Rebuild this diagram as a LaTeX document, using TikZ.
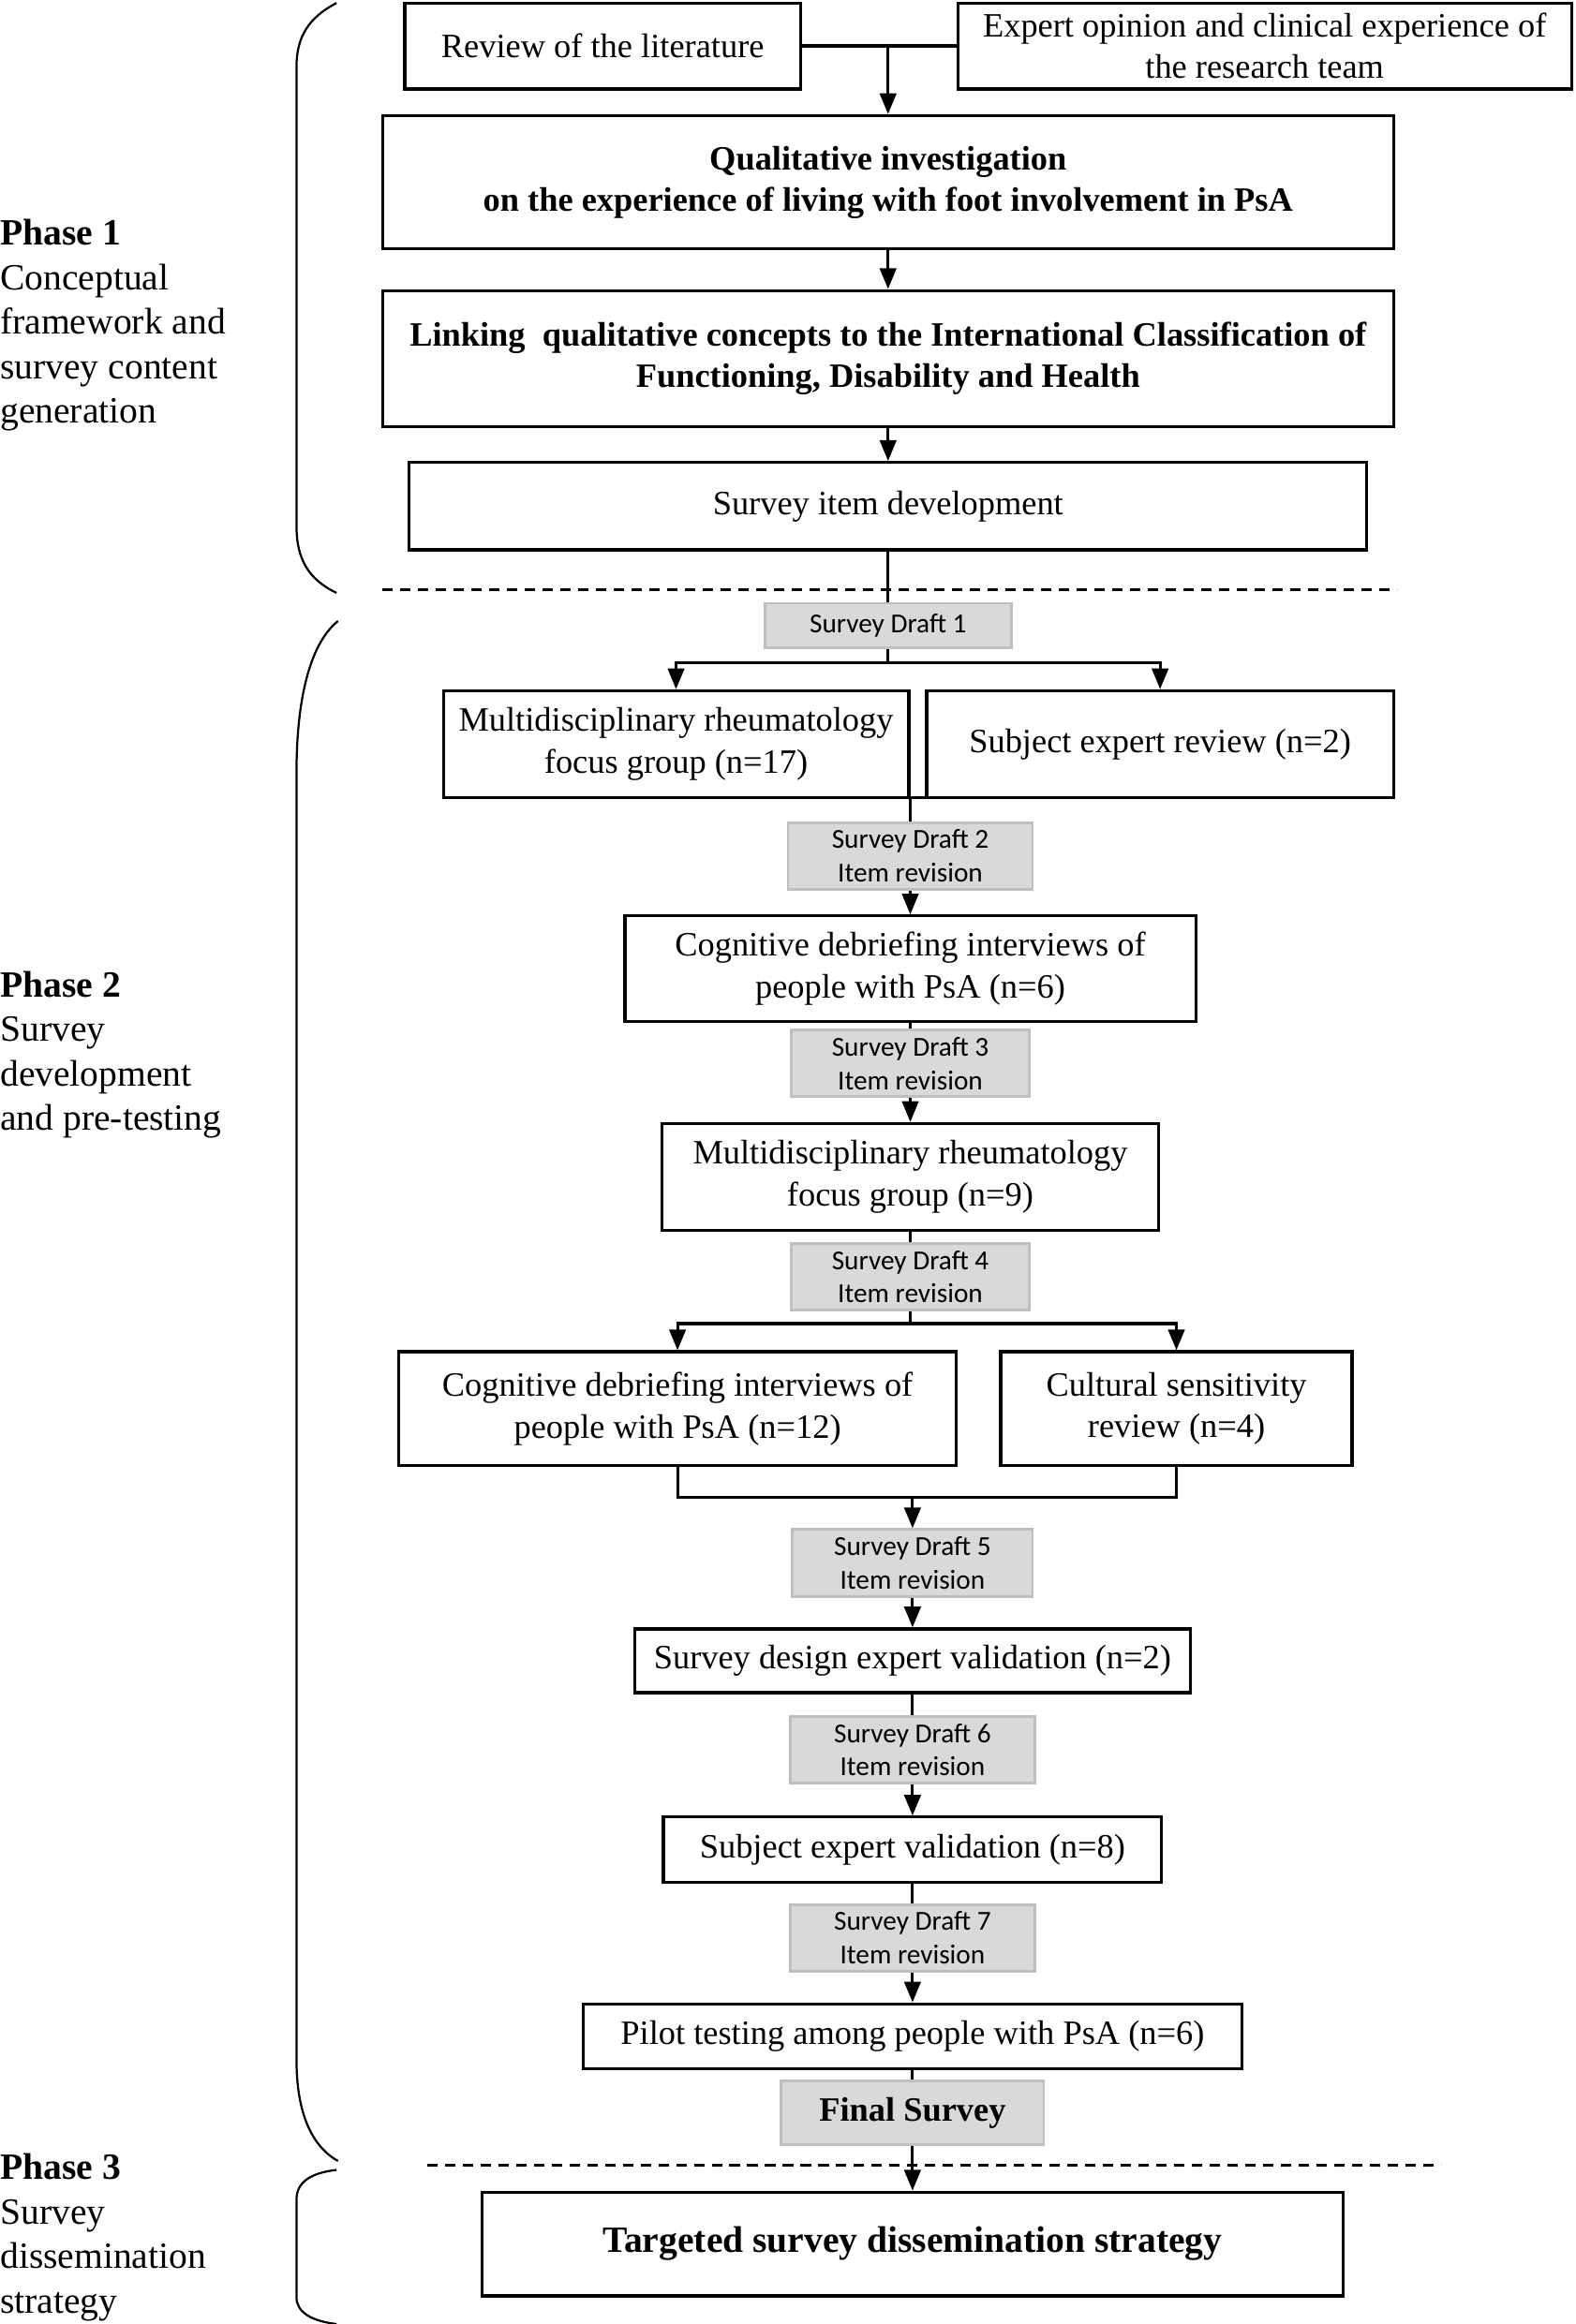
\documentclass[tikz,border=0pt]{standalone}
\usepackage{fontspec}
\setmainfont{Liberation Serif}
\newfontfamily\calib{Carlito}
\usetikzlibrary{arrows.meta}
\definecolor{greyfill}{HTML}{D9D9D9}
\definecolor{greyline}{HTML}{BFBFBF}
\begin{document}
\begin{tikzpicture}[x=1pt,y=-1pt,
  box/.style={draw=black, line width=2pt, align=center, inner sep=0pt,
    font=\fontsize{23}{28}\selectfont},
  bbox/.style={box, font=\bfseries\fontsize{23}{28}\selectfont},
  greybox/.style={draw=greyline, fill=greyfill, line width=1.8pt, align=center, inner sep=0pt,
    font=\calib\fontsize{18.5}{22.5}\selectfont},
  arr/.style={-{Triangle[length=14pt,width=11pt]}, line width=2pt},
  ln/.style={line width=2pt},
  sep/.style={line width=1.8pt, dash pattern=on 7pt off 5pt},
  brace/.style={line width=1.4pt},
  phase/.style={anchor=north west, inner sep=0pt, align=left,
    font=\fontsize{25}{30}\selectfont}
]
\useasboundingbox (0,0) rectangle (1063,1568);

% Phase labels
\node[phase] (p1) at (0,148) {\textbf{Phase 1}\\Conceptual\\framework and\\survey content\\generation};
\node[phase] (p2) at (0,655) {\textbf{Phase 2}\\Survey\\development\\and pre-testing};
\node[phase] (p3) at (0,1453) {\textbf{Phase 3}\\Survey\\dissemination\\strategy};

% Braces
\draw[brace] (227,2) .. controls (208,12) and (200,25) .. (200,45) -- (200,355) .. controls (200,377) and (208,391) .. (227,400);
\draw[brace] (228,419) .. controls (208,435) and (200,475) .. (200,521) -- (200,1390) .. controls (200,1425) and (210,1448) .. (228,1458);
\draw[brace] (227,1464) .. controls (210,1466) and (200,1472) .. (200,1484) -- (200,1550) .. controls (200,1560) and (210,1566) .. (227,1568);

% Phase separators
\coordinate (s1a) at (258,398); \coordinate (s1b) at (942,398);
\coordinate (s2a) at (288,1461); \coordinate (s2b) at (972,1461);
\draw[sep] (s1a) -- (s1b);
\draw[sep] (s2a) -- (s2b);

% Phase 1 nodes
\node[box, minimum width=267pt, minimum height=58pt] (lit) at (406.5,31) {Review of the literature};
\node[box, minimum width=414pt, minimum height=58pt] (exp) at (853,31) {Expert opinion and clinical experience of\\the research team};
\node[bbox, minimum width=682pt, minimum height=90pt] (qual) at (599,123) {Qualitative investigation\\on the experience of living with foot involvement in PsA};
\node[bbox, minimum width=682pt, minimum height=92pt] (link) at (599,242) {Linking\ \ qualitative concepts to the International Classification of\\Functioning, Disability and Health};
\node[box, minimum width=646pt, minimum height=59pt] (item) at (599,341.5) {Survey item development};

% Phase 2 nodes
\node[greybox, minimum width=166pt, minimum height=30pt] (d1) at (599,422) {Survey Draft 1};
\node[box, minimum width=314pt, minimum height=72pt] (m17) at (456,502) {Multidisciplinary rheumatology\\focus group (n=17)};
\node[box, minimum width=315pt, minimum height=72pt] (se2) at (782.5,502) {Subject expert review (n=2)};
\node[greybox, minimum width=165pt, minimum height=45pt] (d2) at (614,577.5) {Survey Draft 2\\Item revision};
\node[box, minimum width=385pt, minimum height=71pt] (cog6) at (614,653.5) {Cognitive debriefing interviews of\\people with PsA (n=6)};
\node[greybox, minimum width=161pt, minimum height=45pt] (d3) at (614,717.5) {Survey Draft 3\\Item revision};
\node[box, minimum width=335pt, minimum height=72pt] (m9) at (614,794) {Multidisciplinary rheumatology\\focus group (n=9)};
\node[greybox, minimum width=161pt, minimum height=45pt] (d4) at (614,861.5) {Survey Draft 4\\Item revision};
\node[box, minimum width=376pt, minimum height=77pt] (cog12) at (457,950.5) {Cognitive debriefing interviews of\\people with PsA (n=12)};
\node[box, minimum width=237pt, minimum height=77pt] (cult) at (793.5,950.5) {Cultural sensitivity\\review (n=4)};
\node[greybox, minimum width=162pt, minimum height=45pt] (d5) at (615.5,1054.5) {Survey Draft 5\\Item revision};
\node[box, minimum width=375pt, minimum height=43pt] (sdev) at (615.5,1120.5) {Survey design expert validation (n=2)};
\node[greybox, minimum width=165pt, minimum height=45pt] (d6) at (615.5,1180.5) {Survey Draft 6\\Item revision};
\node[box, minimum width=336pt, minimum height=44pt] (sval) at (615.5,1248) {Subject expert validation (n=8)};
\node[greybox, minimum width=165pt, minimum height=45pt] (d7) at (615.5,1307.5) {Survey Draft 7\\Item revision};
\node[box, minimum width=444pt, minimum height=44pt] (pilot) at (615.5,1374) {Pilot testing among people with PsA (n=6)};
\node[greybox, minimum width=177pt, minimum height=43pt, font=\bfseries\fontsize{23}{28}\selectfont] (final) at (615.5,1425.5) {Final Survey};

% Phase 3 node
\node[box, minimum width=581pt, minimum height=70pt, font=\bfseries\fontsize{25}{30}\selectfont] (target) at (615.5,1514) {Targeted survey dissemination strategy};

% Connectors phase 1
\coordinate (j0) at (599,31);
\draw[ln] (lit.east) -- (exp.west);
\draw[arr] (j0) -- (qual.north);
\draw[arr] (qual.south) -- (link.north);
\draw[arr] (link.south) -- (item.north);
\draw[ln] (item.south) -- (d1.north);

% Connectors phase 2
\coordinate (b1) at (599,447);
\draw[ln] (d1.south) -- (b1);
\draw[arr] (b1) -| (m17.north);
\draw[arr] (b1) -| (se2.north);
\coordinate (j2) at (614,538);
\draw[ln] (456,538) -- (782.5,538);
\draw[ln] (j2) -- (d2.north);
\draw[arr] (d2.south) -- (cog6.north);
\draw[ln] (cog6.south) -- (d3.north);
\draw[arr] (d3.south) -- (m9.north);
\draw[ln] (m9.south) -- (d4.north);
\coordinate (b4) at (614,893);
\draw[ln] (d4.south) -- (b4);
\draw[arr] (b4) -| (cog12.north);
\draw[arr] (b4) -| (cult.north);
\coordinate (j5) at (615.5,1010);
\draw[ln] (cog12.south) |- (j5) -| (cult.south);
\draw[arr] (j5) -- (d5.north);
\draw[arr] (d5.south) -- (sdev.north);
\draw[ln] (sdev.south) -- (d6.north);
\draw[arr] (d6.south) -- (sval.north);
\draw[ln] (sval.south) -- (d7.north);
\draw[arr] (d7.south) -- (pilot.north);
\draw[ln] (pilot.south) -- (final.north);
\draw[arr] (final.south) -- (target.north);
\end{tikzpicture}
\end{document}
